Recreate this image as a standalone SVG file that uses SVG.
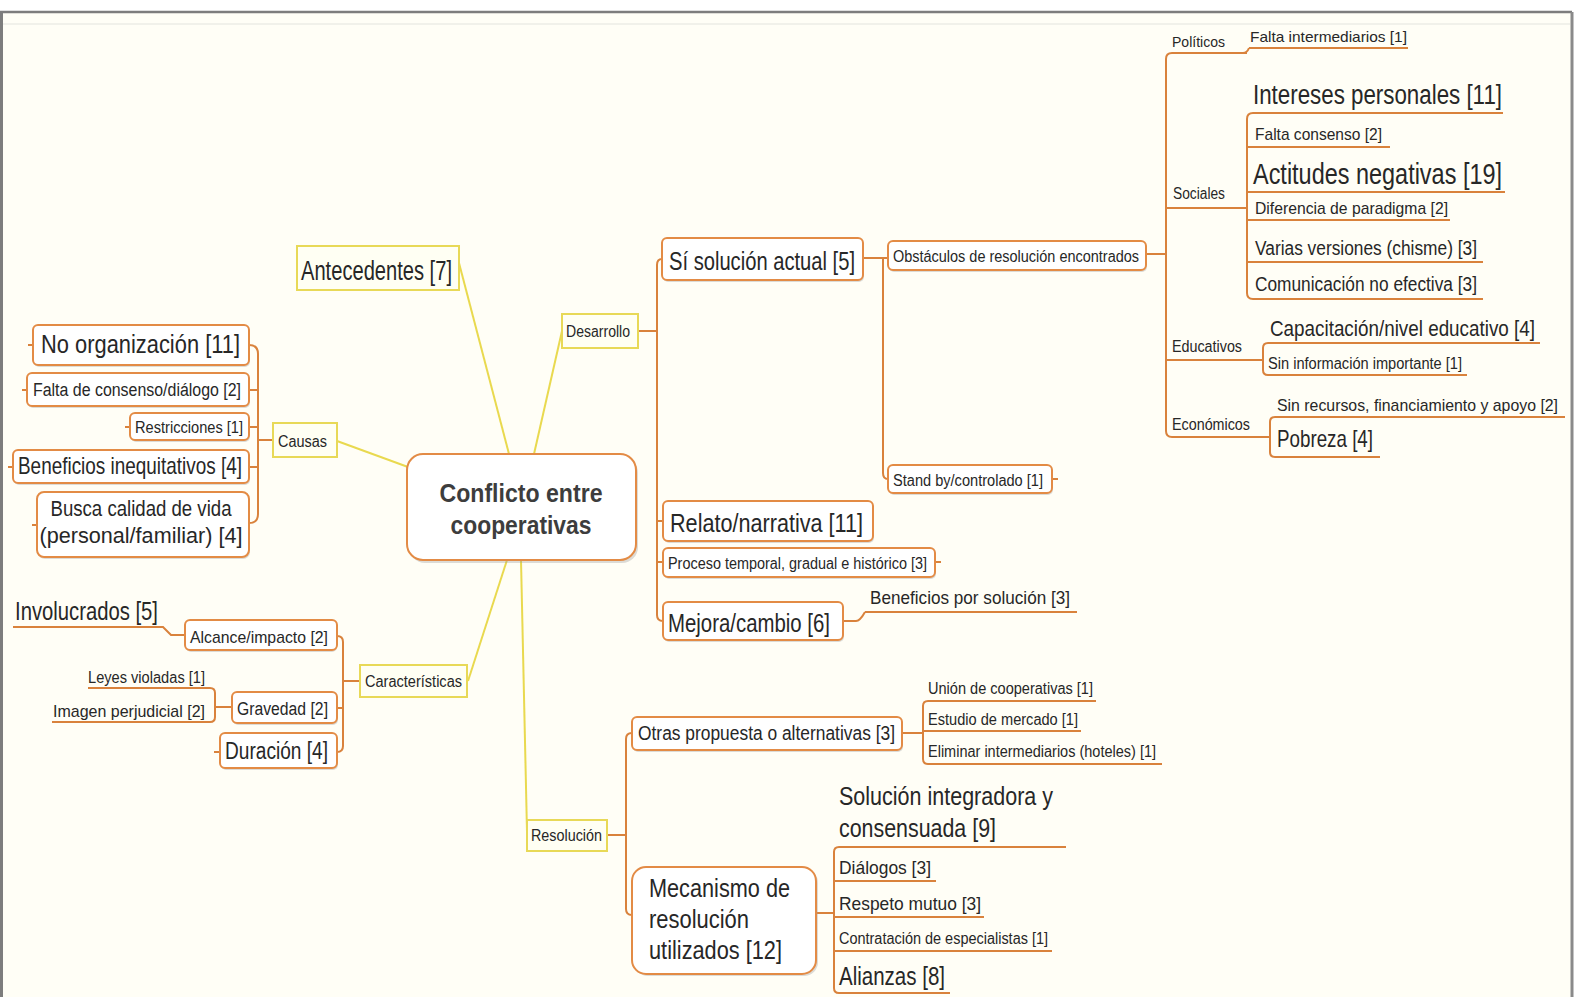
<svg xmlns="http://www.w3.org/2000/svg" width="1577" height="997" viewBox="0 0 1577 997">
<style>
  .t { font-family: "Liberation Sans", Arial, sans-serif; fill: #272727; }
  .tc { font-family: "Liberation Sans", Arial, sans-serif; fill: #3d3d3d; font-weight: bold; }
  .box { fill: #FFFFFF; stroke: #E38B45; stroke-width: 2; }
  .ybox { fill: #FFFFF3; stroke: #E8D957; stroke-width: 2; }
  .shadow { fill: #9a9a9a; opacity: 0.35; }
  .yl { fill: none; stroke: #E9D94F; stroke-width: 2; }
  .ol { fill: none; stroke: #D9823C; stroke-width: 2; }
  .ul { fill: none; stroke: #D9823C; stroke-width: 2; }
</style>

<!-- page and window frame -->
<rect x="0" y="0" width="1577" height="997" fill="#FFFFFF"/>
<rect x="2" y="12" width="1570" height="985" fill="#FFFEF6"/>
<line x1="0" y1="12" x2="1572" y2="12" stroke="#7d7d7d" stroke-width="2.5"/>
<line x1="1.5" y1="12" x2="1.5" y2="997" stroke="#7d7d7d" stroke-width="3"/>
<line x1="1572" y1="12" x2="1572" y2="997" stroke="#8a8a8a" stroke-width="3"/>
<line x1="3" y1="24" x2="1570" y2="24" stroke="#f1f1ea" stroke-width="2"/>

<!-- connectors -->
<g id="connectors">
  <!-- central branches -->
  <line class="yl" x1="337" y1="441" x2="408" y2="467"/>
  <line class="yl" x1="459" y1="263" x2="509" y2="454"/>
  <line class="yl" x1="534" y1="454" x2="562" y2="331"/>
  <line class="yl" x1="468" y1="681" x2="507" y2="560"/>
  <line class="yl" x1="521" y1="560" x2="527" y2="832"/>

  <!-- Causas -->
  <path class="ol" d="M273,440 H258"/>
  <path class="ol" d="M249,345 Q258,345 258,354 V514 Q258,523 249,523"/>
  <path class="ol" d="M249,390 H258 M249,427 H258 M249,467 H258"/>
  <path class="ol" d="M28,345 H33 M22,390 H27 M125,427 H130 M8,467 H13 M32,525 H37"/>

  <!-- Desarrollo -->
  <path class="ol" d="M638,331 H657"/>
  <path class="ol" d="M662,259 Q657,259 657,265 V615 Q657,621 663,621"/>
  <path class="ol" d="M657,521 H663 M657,562 H663"/>
  <path class="ol" d="M935,562 H941 M1052,479 H1058"/>
  <path class="ol" d="M863,258 H888"/>
  <path class="ol" d="M883,258 V473 Q883,479 888,479"/>
  <path class="ol" d="M843,621 H856 Q860,621 865,612"/>
  <path class="ul" d="M865,612 H1077"/>

  <!-- Obstáculos -->
  <path class="ol" d="M1146,254 H1166"/>
  <path class="ol" d="M1247,53 H1172 Q1166,53 1166,59 V431 Q1166,437 1172,437 H1270"/>
  <path class="ol" d="M1166,208 H1247 M1166,360 H1263"/>
  <path class="ol" d="M1243,53 Q1247,53 1249,48"/>
  <path class="ul" d="M1249,48 H1408"/>
  <path class="ul" d="M1503,113 H1253 Q1247,113 1247,119 V293 Q1247,299 1253,299 H1483"/>
  <path class="ul" d="M1247,147 H1390 M1247,192 H1505 M1247,220 H1450 M1247,262 H1483"/>
  <path class="ul" d="M1540,343 H1268 Q1263,343 1263,348 V370 Q1263,375 1268,375 H1467"/>
  <path class="ul" d="M1565,417 H1275 Q1270,417 1270,422 V452 Q1270,457 1275,457 H1380"/>

  <!-- Características -->
  <path class="ol" d="M360,681 H343"/>
  <path class="ol" d="M337,636 Q343,636 343,642 V746 Q343,752 337,752"/>
  <path class="ol" d="M337,708 H343"/>
  <path class="ol" d="M214,752 H220"/>
  <path class="ul" d="M13,627 H163 L171,635 H185"/>
  <path class="ul" d="M88,688 H210 Q215,688 215,693 V717 Q215,722 210,722 H52"/>
  <path class="ol" d="M215,707 H232"/>

  <!-- Resolución -->
  <path class="ol" d="M607,835 H626"/>
  <path class="ol" d="M632,733 Q626,733 626,739 V909 Q626,915 632,915"/>
  <path class="ol" d="M902,733 H923"/>
  <path class="ul" d="M1096,701 H928 Q923,701 923,706 V759 Q923,764 928,764 H1162"/>
  <path class="ul" d="M923,731 H1081"/>
  <path class="ol" d="M816,913 H834"/>
  <path class="ul" d="M1066,847 H839 Q834,847 834,852 V988 Q834,993 839,993 H950"/>
  <path class="ul" d="M834,881 H936 M834,917 H984 M834,951 H1052"/>
</g>

<!-- central topic -->
<g id="central">
  <rect class="shadow" x="409" y="457" width="229" height="106" rx="16"/>
  <rect class="box" x="407" y="454" width="229" height="106" rx="16" stroke-width="2.5"/>
  <text class="tc" x="521" y="502" font-size="26" text-anchor="middle" textLength="163" lengthAdjust="spacingAndGlyphs">Conflicto entre</text>
  <text class="tc" x="521" y="534" font-size="26" text-anchor="middle" textLength="141" lengthAdjust="spacingAndGlyphs">cooperativas</text>
</g>

<!-- main branches -->
<g id="antecedentes">
  <rect class="ybox" x="297" y="246" width="162" height="44"/>
  <text class="t" x="301" y="280" font-size="27" textLength="151" lengthAdjust="spacingAndGlyphs">Antecedentes [7]</text>
</g>
<g id="causas">
  <rect class="ybox" x="273" y="423" width="64" height="34"/>
  <text class="t" x="278" y="447" font-size="16" textLength="49" lengthAdjust="spacingAndGlyphs">Causas</text>
</g>
<g id="desarrollo">
  <rect class="ybox" x="562" y="314" width="76" height="34"/>
  <text class="t" x="566" y="337" font-size="16" textLength="64" lengthAdjust="spacingAndGlyphs">Desarrollo</text>
</g>
<g id="caracteristicas">
  <rect class="ybox" x="360" y="665" width="107" height="32"/>
  <text class="t" x="365" y="687" font-size="16" textLength="97" lengthAdjust="spacingAndGlyphs">Características</text>
</g>
<g id="resolucion">
  <rect class="ybox" x="527" y="820" width="80" height="31"/>
  <text class="t" x="531" y="841" font-size="16" textLength="71" lengthAdjust="spacingAndGlyphs">Resolución</text>
</g>

<!-- Causas subtopics -->
<g id="no-organizacion">
  <rect class="shadow" x="34" y="327" width="216" height="40" rx="5"/>
  <rect class="box" x="33" y="325" width="216" height="40" rx="5"/>
  <text class="t" x="41" y="353" font-size="26" textLength="199" lengthAdjust="spacingAndGlyphs">No organización [11]</text>
</g>
<g id="falta-consenso-dialogo">
  <rect class="shadow" x="28" y="375" width="222" height="33" rx="5"/>
  <rect class="box" x="27" y="373" width="222" height="33" rx="5"/>
  <text class="t" x="33" y="396" font-size="18" textLength="208" lengthAdjust="spacingAndGlyphs">Falta de consenso/diálogo [2]</text>
</g>
<g id="restricciones">
  <rect class="shadow" x="131" y="415" width="119" height="27" rx="5"/>
  <rect class="box" x="130" y="413" width="119" height="27" rx="5"/>
  <text class="t" x="135" y="433" font-size="16" textLength="108" lengthAdjust="spacingAndGlyphs">Restricciones [1]</text>
</g>
<g id="beneficios-inequitativos">
  <rect class="shadow" x="14" y="452" width="236" height="33" rx="5"/>
  <rect class="box" x="13" y="450" width="236" height="33" rx="5"/>
  <text class="t" x="18" y="474" font-size="24" textLength="224" lengthAdjust="spacingAndGlyphs">Beneficios inequitativos [4]</text>
</g>
<g id="busca-calidad">
  <rect class="shadow" x="38" y="494" width="212" height="65" rx="7"/>
  <rect class="box" x="37" y="492" width="212" height="65" rx="7"/>
  <text class="t" x="141" y="516" font-size="22" text-anchor="middle" textLength="181" lengthAdjust="spacingAndGlyphs">Busca calidad de vida</text>
  <text class="t" x="141" y="543" font-size="22" text-anchor="middle" textLength="203" lengthAdjust="spacingAndGlyphs">(personal/familiar) [4]</text>
</g>

<!-- Características subtopics -->
<g id="alcance">
  <rect class="shadow" x="186" y="622" width="151" height="30" rx="5"/>
  <rect class="box" x="185" y="620" width="152" height="30" rx="5"/>
  <text class="t" x="190" y="643" font-size="17" textLength="138" lengthAdjust="spacingAndGlyphs">Alcance/impacto [2]</text>
</g>
<g id="involucrados">
  <text class="t" x="15" y="620" font-size="25" textLength="143" lengthAdjust="spacingAndGlyphs">Involucrados [5]</text>
</g>
<g id="gravedad">
  <rect class="shadow" x="233" y="694" width="105" height="31" rx="5"/>
  <rect class="box" x="232" y="692" width="105" height="31" rx="5"/>
  <text class="t" x="237" y="715" font-size="18" textLength="91" lengthAdjust="spacingAndGlyphs">Gravedad [2]</text>
</g>
<g id="leyes-violadas">
  <text class="t" x="88" y="683" font-size="16" textLength="117" lengthAdjust="spacingAndGlyphs">Leyes violadas [1]</text>
</g>
<g id="imagen-perjudicial">
  <text class="t" x="53" y="717" font-size="17" textLength="152" lengthAdjust="spacingAndGlyphs">Imagen perjudicial [2]</text>
</g>
<g id="duracion">
  <rect class="shadow" x="221" y="735" width="117" height="35" rx="5"/>
  <rect class="box" x="220" y="733" width="117" height="35" rx="5"/>
  <text class="t" x="225" y="759" font-size="23" textLength="103" lengthAdjust="spacingAndGlyphs">Duración [4]</text>
</g>

<!-- Desarrollo subtopics -->
<g id="si-solucion">
  <rect class="shadow" x="663" y="240" width="201" height="42" rx="5"/>
  <rect class="box" x="662" y="238" width="201" height="42" rx="5"/>
  <text class="t" x="669" y="270" font-size="26" textLength="186" lengthAdjust="spacingAndGlyphs">Sí solución actual [5]</text>
</g>
<g id="obstaculos">
  <rect class="shadow" x="889" y="243" width="258" height="29" rx="5"/>
  <rect class="box" x="888" y="241" width="258" height="29" rx="5"/>
  <text class="t" x="893" y="262" font-size="16" textLength="246" lengthAdjust="spacingAndGlyphs">Obstáculos de resolución encontrados</text>
</g>
<g id="stand-by">
  <rect class="shadow" x="889" y="467" width="164" height="28" rx="5"/>
  <rect class="box" x="888" y="465" width="164" height="28" rx="5"/>
  <text class="t" x="893" y="486" font-size="16" textLength="150" lengthAdjust="spacingAndGlyphs">Stand by/controlado [1]</text>
</g>
<g id="relato">
  <rect class="shadow" x="664" y="503" width="210" height="40" rx="5"/>
  <rect class="box" x="663" y="501" width="210" height="40" rx="5"/>
  <text class="t" x="670" y="532" font-size="26" textLength="193" lengthAdjust="spacingAndGlyphs">Relato/narrativa [11]</text>
</g>
<g id="proceso">
  <rect class="shadow" x="664" y="550" width="272" height="29" rx="5"/>
  <rect class="box" x="663" y="548" width="272" height="29" rx="5"/>
  <text class="t" x="668" y="569" font-size="16" textLength="259" lengthAdjust="spacingAndGlyphs">Proceso temporal, gradual e histórico [3]</text>
</g>
<g id="mejora">
  <rect class="shadow" x="664" y="604" width="180" height="38" rx="5"/>
  <rect class="box" x="663" y="602" width="180" height="38" rx="5"/>
  <text class="t" x="668" y="632" font-size="26" textLength="162" lengthAdjust="spacingAndGlyphs">Mejora/cambio [6]</text>
</g>
<g id="beneficios-solucion">
  <text class="t" x="870" y="604" font-size="19" textLength="200" lengthAdjust="spacingAndGlyphs">Beneficios por solución [3]</text>
</g>

<!-- obstacle categories -->
<g id="politicos">
  <text class="t" x="1172" y="47" font-size="15" textLength="53" lengthAdjust="spacingAndGlyphs">Políticos</text>
</g>
<g id="falta-intermediarios">
  <text class="t" x="1250" y="42" font-size="15" textLength="157" lengthAdjust="spacingAndGlyphs">Falta intermediarios [1]</text>
</g>
<g id="sociales">
  <text class="t" x="1173" y="199" font-size="16" textLength="52" lengthAdjust="spacingAndGlyphs">Sociales</text>
</g>
<g id="intereses">
  <text class="t" x="1502" y="104" font-size="27" text-anchor="end" textLength="249" lengthAdjust="spacingAndGlyphs">Intereses personales [11]</text>
</g>
<g id="falta-consenso">
  <text class="t" x="1255" y="140" font-size="17" textLength="127" lengthAdjust="spacingAndGlyphs">Falta consenso [2]</text>
</g>
<g id="actitudes">
  <text class="t" x="1502" y="184" font-size="30" text-anchor="end" textLength="249" lengthAdjust="spacingAndGlyphs">Actitudes negativas [19]</text>
</g>
<g id="diferencia">
  <text class="t" x="1255" y="214" font-size="17" textLength="193" lengthAdjust="spacingAndGlyphs">Diferencia de paradigma [2]</text>
</g>
<g id="varias-versiones">
  <text class="t" x="1255" y="255" font-size="20" textLength="222" lengthAdjust="spacingAndGlyphs">Varias versiones (chisme) [3]</text>
</g>
<g id="comunicacion">
  <text class="t" x="1255" y="291" font-size="20" textLength="222" lengthAdjust="spacingAndGlyphs">Comunicación no efectiva [3]</text>
</g>
<g id="educativos">
  <text class="t" x="1172" y="352" font-size="16" textLength="70" lengthAdjust="spacingAndGlyphs">Educativos</text>
</g>
<g id="capacitacion">
  <text class="t" x="1270" y="336" font-size="22" textLength="265" lengthAdjust="spacingAndGlyphs">Capacitación/nivel educativo [4]</text>
</g>
<g id="sin-informacion">
  <text class="t" x="1268" y="369" font-size="16" textLength="194" lengthAdjust="spacingAndGlyphs">Sin información importante [1]</text>
</g>
<g id="economicos">
  <text class="t" x="1172" y="430" font-size="16" textLength="78" lengthAdjust="spacingAndGlyphs">Económicos</text>
</g>
<g id="sin-recursos">
  <text class="t" x="1558" y="411" font-size="17" text-anchor="end" textLength="281" lengthAdjust="spacingAndGlyphs">Sin recursos, financiamiento y apoyo [2]</text>
</g>
<g id="pobreza">
  <text class="t" x="1277" y="447" font-size="24" textLength="96" lengthAdjust="spacingAndGlyphs">Pobreza [4]</text>
</g>

<!-- Resolución subtopics -->
<g id="otras-propuestas">
  <rect class="shadow" x="633" y="719" width="270" height="33" rx="5"/>
  <rect class="box" x="632" y="717" width="270" height="33" rx="5"/>
  <text class="t" x="638" y="740" font-size="20" textLength="257" lengthAdjust="spacingAndGlyphs">Otras propuesta o alternativas [3]</text>
</g>
<g id="union">
  <text class="t" x="928" y="694" font-size="16" textLength="165" lengthAdjust="spacingAndGlyphs">Unión de cooperativas [1]</text>
</g>
<g id="estudio">
  <text class="t" x="928" y="725" font-size="16" textLength="150" lengthAdjust="spacingAndGlyphs">Estudio de mercado [1]</text>
</g>
<g id="eliminar">
  <text class="t" x="928" y="757" font-size="16" textLength="228" lengthAdjust="spacingAndGlyphs">Eliminar intermediarios (hoteles) [1]</text>
</g>
<g id="mecanismo">
  <rect class="shadow" x="634" y="869" width="184" height="107" rx="14"/>
  <rect class="box" x="632" y="867" width="184" height="107" rx="14"/>
  <text class="t" x="649" y="897" font-size="25" textLength="141" lengthAdjust="spacingAndGlyphs">Mecanismo de</text>
  <text class="t" x="649" y="928" font-size="25" textLength="100" lengthAdjust="spacingAndGlyphs">resolución</text>
  <text class="t" x="649" y="959" font-size="25" textLength="133" lengthAdjust="spacingAndGlyphs">utilizados [12]</text>
</g>
<g id="solucion-integradora">
  <text class="t" x="839" y="805" font-size="26" textLength="214" lengthAdjust="spacingAndGlyphs">Solución integradora y</text>
  <text class="t" x="839" y="837" font-size="26" textLength="157" lengthAdjust="spacingAndGlyphs">consensuada [9]</text>
</g>
<g id="dialogos">
  <text class="t" x="839" y="874" font-size="19" textLength="92" lengthAdjust="spacingAndGlyphs">Diálogos [3]</text>
</g>
<g id="respeto">
  <text class="t" x="839" y="910" font-size="19" textLength="142" lengthAdjust="spacingAndGlyphs">Respeto mutuo [3]</text>
</g>
<g id="contratacion">
  <text class="t" x="839" y="944" font-size="16" textLength="209" lengthAdjust="spacingAndGlyphs">Contratación de especialistas [1]</text>
</g>
<g id="alianzas">
  <text class="t" x="839" y="985" font-size="26" textLength="106" lengthAdjust="spacingAndGlyphs">Alianzas [8]</text>
</g>
</svg>
